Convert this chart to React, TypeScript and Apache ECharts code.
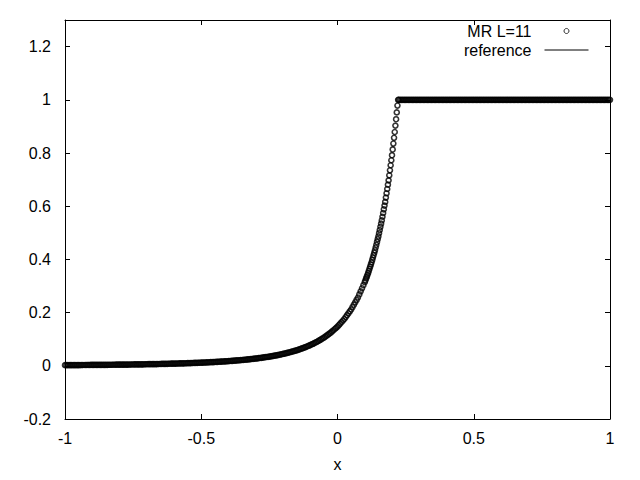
import React, { useEffect, useRef } from "react";
import * as echarts from "echarts";

// Tick labels
const xTicks = [-1, -0.5, 0, 0.5, 1];
const yTicks = [-0.2, 0, 0.2, 0.4, 0.6, 0.8, 1, 1.2];
const legendNames = ["MR L=11", "reference"];

// MR L=11 points: left tail
const tailPoints: [number, number][] = [
  [-1.0, 0.0025], [-0.995, 0.0025], [-0.99, 0.0026], [-0.985, 0.0026], [-0.98, 0.0026],
  [-0.975, 0.0027], [-0.97, 0.0027], [-0.965, 0.0027], [-0.96, 0.0028], [-0.955, 0.0028],
  [-0.95, 0.0028], [-0.945, 0.0029], [-0.94, 0.0029], [-0.935, 0.003], [-0.93, 0.003],
  [-0.925, 0.003], [-0.92, 0.0031], [-0.915, 0.0031], [-0.91, 0.0031], [-0.905, 0.0032],
  [-0.9, 0.0032], [-0.895, 0.0033], [-0.89, 0.0033], [-0.885, 0.0034], [-0.88, 0.0034],
  [-0.875, 0.0034], [-0.87, 0.0035], [-0.865, 0.0035], [-0.86, 0.0036], [-0.855, 0.0036],
  [-0.85, 0.0037], [-0.845, 0.0037], [-0.84, 0.0038], [-0.835, 0.0038], [-0.83, 0.0039],
  [-0.825, 0.004], [-0.82, 0.0041], [-0.815, 0.0041], [-0.81, 0.0042], [-0.805, 0.0042],
  [-0.8, 0.0043], [-0.795, 0.0043], [-0.79, 0.0044], [-0.785, 0.0045], [-0.78, 0.0046],
  [-0.775, 0.0046], [-0.77, 0.0047], [-0.765, 0.0048], [-0.76, 0.0049], [-0.755, 0.0049],
  [-0.75, 0.005], [-0.745, 0.0051], [-0.74, 0.0052], [-0.735, 0.0053], [-0.73, 0.0054],
  [-0.725, 0.0054], [-0.72, 0.0055], [-0.715, 0.0056], [-0.71, 0.0057], [-0.705, 0.0058],
  [-0.7, 0.0059], [-0.695, 0.006], [-0.69, 0.0061], [-0.685, 0.0062], [-0.68, 0.0063],
  [-0.675, 0.0064], [-0.67, 0.0065], [-0.665, 0.0066], [-0.66, 0.0067], [-0.655, 0.0068],
  [-0.65, 0.0069], [-0.645, 0.007], [-0.64, 0.0072], [-0.635, 0.0073], [-0.63, 0.0074],
  [-0.625, 0.0075], [-0.62, 0.0077], [-0.615, 0.0078], [-0.61, 0.008], [-0.605, 0.0081],
  [-0.6, 0.0082], [-0.595, 0.0084], [-0.59, 0.0085], [-0.585, 0.0086], [-0.58, 0.0088],
  [-0.575, 0.009], [-0.57, 0.0091], [-0.565, 0.0093], [-0.56, 0.0095], [-0.555, 0.0096],
  [-0.55, 0.0098], [-0.545, 0.01], [-0.54, 0.0102], [-0.535, 0.0104], [-0.53, 0.0106],
  [-0.525, 0.0108], [-0.52, 0.011], [-0.515, 0.0112], [-0.51, 0.0114], [-0.505, 0.0116],
  [-0.5, 0.0118], [-0.495, 0.012], [-0.49, 0.0123], [-0.485, 0.0125], [-0.48, 0.0128],
  [-0.475, 0.013], [-0.47, 0.0133], [-0.465, 0.0135], [-0.46, 0.0138], [-0.455, 0.0141],
  [-0.45, 0.0144], [-0.445, 0.0147], [-0.44, 0.015], [-0.435, 0.0153], [-0.43, 0.0156],
  [-0.425, 0.0159], [-0.42, 0.0163], [-0.415, 0.0166], [-0.41, 0.0169], [-0.405, 0.0172],
  [-0.4, 0.0176], [-0.395, 0.018], [-0.39, 0.0184], [-0.385, 0.0188], [-0.38, 0.0192],
  [-0.375, 0.0196], [-0.37, 0.0201], [-0.365, 0.0205], [-0.36, 0.0209], [-0.355, 0.0213],
  [-0.35, 0.0218], [-0.345, 0.0223], [-0.34, 0.0228], [-0.335, 0.0233], [-0.33, 0.0239],
  [-0.325, 0.0244], [-0.32, 0.025], [-0.315, 0.0255], [-0.31, 0.0261], [-0.305, 0.0267],
  [-0.3, 0.0273], [-0.295, 0.028], [-0.29, 0.0287], [-0.285, 0.0294], [-0.28, 0.0301],
  [-0.275, 0.0308], [-0.27, 0.0316], [-0.265, 0.0323], [-0.26, 0.0331], [-0.255, 0.0338],
  [-0.25, 0.0346], [-0.245, 0.0355], [-0.24, 0.0364], [-0.235, 0.0373], [-0.23, 0.0383],
  [-0.225, 0.0393], [-0.22, 0.0403], [-0.215, 0.0413], [-0.21, 0.0424], [-0.205, 0.0435],
  [-0.2, 0.0446],
];

// rising part
const risePoints: [number, number][] = [
  [-0.195, 0.0458], [-0.19, 0.0471], [-0.185, 0.0483], [-0.18, 0.0496], [-0.175, 0.0509],
  [-0.17, 0.0524], [-0.165, 0.0539], [-0.16, 0.0553], [-0.155, 0.0568], [-0.15, 0.0583],
  [-0.145, 0.06], [-0.14, 0.0618], [-0.135, 0.0636], [-0.13, 0.0654], [-0.125, 0.0672],
  [-0.12, 0.0693], [-0.115, 0.0714], [-0.11, 0.0735], [-0.105, 0.0757], [-0.1, 0.0778],
  [-0.095, 0.0803], [-0.09, 0.0828], [-0.085, 0.0853], [-0.08, 0.0879], [-0.075, 0.0904],
  [-0.07, 0.0935], [-0.065, 0.0966], [-0.06, 0.0996], [-0.055, 0.1027], [-0.05, 0.1058],
  [-0.045, 0.1095], [-0.04, 0.1133], [-0.035, 0.117], [-0.03, 0.1208], [-0.025, 0.1245],
  [-0.02, 0.1291], [-0.015, 0.1337], [-0.01, 0.1383], [-0.005, 0.1429], [0.0, 0.1475],
  [0.005, 0.1532], [0.01, 0.1589], [0.015, 0.1646], [0.02, 0.1703], [0.025, 0.176],
  [0.03, 0.1831], [0.035, 0.1903], [0.04, 0.1974], [0.045, 0.2046], [0.05, 0.2117],
  [0.055, 0.2207], [0.06, 0.2297], [0.065, 0.2388], [0.07, 0.2478], [0.075, 0.2568],
  [0.08, 0.2683], [0.085, 0.2798], [0.09, 0.2914], [0.095, 0.3029], [0.1, 0.3144],
];

// steep part just before the plateau
const steepPoints: [number, number][] = [
  [0.1025, 0.3213], [0.105, 0.3283], [0.1075, 0.3352], [0.11, 0.3422], [0.1125, 0.3491],
  [0.115, 0.3571], [0.1175, 0.365], [0.12, 0.373], [0.1225, 0.3809], [0.125, 0.3889],
  [0.1275, 0.398], [0.13, 0.4071], [0.1325, 0.4161], [0.135, 0.4252], [0.1375, 0.4343],
  [0.14, 0.4447], [0.1425, 0.4551], [0.145, 0.4656], [0.1475, 0.476], [0.15, 0.4864],
  [0.1525, 0.4984], [0.155, 0.5104], [0.1575, 0.5224], [0.16, 0.5344], [0.1625, 0.5464],
  [0.165, 0.5604], [0.1675, 0.5743], [0.17, 0.5883], [0.1725, 0.6022], [0.175, 0.6162],
  [0.1775, 0.6324], [0.18, 0.6486], [0.1825, 0.6647], [0.185, 0.6809], [0.1875, 0.6971],
  [0.19, 0.716], [0.1925, 0.7349], [0.195, 0.7539], [0.1975, 0.7728], [0.2, 0.7917],
  [0.2025, 0.8135], [0.205, 0.8354], [0.2075, 0.8572], [0.21, 0.879], [0.2125, 0.903],
  [0.215, 0.927], [0.2175, 0.9527], [0.22, 0.9784],
];

// plateau at 1
const plateauPoints: [number, number][] = [
  [0.2225, 1], [0.225, 1], [0.23, 1], [0.235, 1], [0.24, 1], [0.245, 1], [0.25, 1], [0.255, 1],
  [0.26, 1], [0.265, 1], [0.27, 1], [0.275, 1], [0.28, 1], [0.285, 1], [0.29, 1], [0.295, 1],
  [0.3, 1], [0.305, 1], [0.31, 1], [0.315, 1], [0.32, 1], [0.325, 1], [0.33, 1], [0.335, 1],
  [0.34, 1], [0.345, 1], [0.35, 1], [0.355, 1], [0.36, 1], [0.365, 1], [0.37, 1], [0.375, 1],
  [0.38, 1], [0.385, 1], [0.39, 1], [0.395, 1], [0.4, 1], [0.405, 1], [0.41, 1], [0.415, 1],
  [0.42, 1], [0.425, 1], [0.43, 1], [0.435, 1], [0.44, 1], [0.445, 1], [0.45, 1], [0.455, 1],
  [0.46, 1], [0.465, 1], [0.47, 1], [0.475, 1], [0.48, 1], [0.485, 1], [0.49, 1], [0.495, 1],
  [0.5, 1], [0.505, 1], [0.51, 1], [0.515, 1], [0.52, 1], [0.525, 1], [0.53, 1], [0.535, 1],
  [0.54, 1], [0.545, 1], [0.55, 1], [0.555, 1], [0.56, 1], [0.565, 1], [0.57, 1], [0.575, 1],
  [0.58, 1], [0.585, 1], [0.59, 1], [0.595, 1], [0.6, 1], [0.605, 1], [0.61, 1], [0.615, 1],
  [0.62, 1], [0.625, 1], [0.63, 1], [0.635, 1], [0.64, 1], [0.645, 1], [0.65, 1], [0.655, 1],
  [0.66, 1], [0.665, 1], [0.67, 1], [0.675, 1], [0.68, 1], [0.685, 1], [0.69, 1], [0.695, 1],
  [0.7, 1], [0.705, 1], [0.71, 1], [0.715, 1], [0.72, 1], [0.725, 1], [0.73, 1], [0.735, 1],
  [0.74, 1], [0.745, 1], [0.75, 1], [0.755, 1], [0.76, 1], [0.765, 1], [0.77, 1], [0.775, 1],
  [0.78, 1], [0.785, 1], [0.79, 1], [0.795, 1], [0.8, 1], [0.805, 1], [0.81, 1], [0.815, 1],
  [0.82, 1], [0.825, 1], [0.83, 1], [0.835, 1], [0.84, 1], [0.845, 1], [0.85, 1], [0.855, 1],
  [0.86, 1], [0.865, 1], [0.87, 1], [0.875, 1], [0.88, 1], [0.885, 1], [0.89, 1], [0.895, 1],
  [0.9, 1], [0.905, 1], [0.91, 1], [0.915, 1], [0.92, 1], [0.925, 1], [0.93, 1], [0.935, 1],
  [0.94, 1], [0.945, 1], [0.95, 1], [0.955, 1], [0.96, 1], [0.965, 1], [0.97, 1], [0.975, 1],
  [0.98, 1], [0.985, 1], [0.99, 1], [0.995, 1], [1.0, 1],
];

// the reference curve is not visible in the picture
const referencePoints: [number, number][] = [];

const FONT = "'Liberation Sans', Arial, sans-serif";

export default function App() {
  const ref = useRef<HTMLDivElement>(null);
  useEffect(() => {
    if (!ref.current) return;
    const chart = echarts.init(ref.current, undefined, { renderer: "svg" });
    const mrData = [...tailPoints, ...risePoints, ...steepPoints, ...plateauPoints];
    const axisCommon = {
      type: "value" as const,
      axisLine: { show: true, onZero: false, lineStyle: { color: "#000", width: 1 } },
      axisTick: { show: true, inside: true, length: 5, lineStyle: { color: "#000", width: 1 } },
      splitLine: { show: false },
    };
    const xMin = xTicks[0];
    const xMax = xTicks[xTicks.length - 1];
    const xInt = xTicks[1] - xTicks[0];
    const yMin = yTicks[0];
    const yInt = 0.2;
    const yMax = 1.3;
    chart.setOption({
      animation: false,
      backgroundColor: "#fff",
      textStyle: { fontFamily: FONT },
      grid: { left: 65, right: 30, top: 20, bottom: 61, containLabel: false },
      legend: {
        orient: "vertical",
        right: 51,
        top: 23,
        padding: 0,
        align: "right",
        itemWidth: 44,
        itemHeight: 5,
        itemGap: 3,
        formatter: "{t|{name}}",
        textStyle: {
          fontFamily: FONT,
          fontSize: 16,
          color: "#000",
          rich: { t: { fontFamily: FONT, fontSize: 16, color: "#000", padding: [0, 8, 0, 0] } },
        },
        data: [
          {
            name: legendNames[0],
            icon: "circle",
            itemStyle: { color: "#fff", borderColor: "#000", borderWidth: 1 },
          },
          {
            name: legendNames[1],
            itemStyle: { color: "rgba(0,0,0,0)", borderWidth: 0, opacity: 0 },
            lineStyle: { color: "#000", width: 1 },
          },
        ],
      },
      xAxis: [
        {
          ...axisCommon,
          position: "bottom",
          min: xMin,
          max: xMax,
          interval: xInt,
          name: "x",
          nameLocation: "middle",
          nameGap: 37,
          nameTextStyle: { fontFamily: FONT, fontSize: 16, color: "#000" },
          axisLabel: { margin: 11, color: "#000", fontSize: 16, fontFamily: FONT },
        },
        {
          ...axisCommon,
          position: "top",
          min: xMin,
          max: xMax,
          interval: xInt,
          axisLabel: { show: false },
        },
      ],
      yAxis: [
        {
          ...axisCommon,
          position: "left",
          min: yMin,
          max: yMax,
          interval: yInt,
          axisLabel: { margin: 14, color: "#000", fontSize: 16, fontFamily: FONT, showMaxLabel: false },
        },
        {
          ...axisCommon,
          position: "right",
          min: yMin,
          max: yMax,
          interval: yInt,
          axisLabel: { show: false },
        },
      ],
      series: [
        {
          name: legendNames[0],
          type: "scatter",
          xAxisIndex: 0,
          yAxisIndex: 0,
          symbol: "circle",
          symbolSize: 5,
          clip: false,
          itemStyle: { color: "rgba(0,0,0,0)", borderColor: "#000", borderWidth: 1.6 },
          data: mrData,
        },
        {
          name: legendNames[1],
          type: "line",
          xAxisIndex: 0,
          yAxisIndex: 0,
          showSymbol: false,
          symbol: "none",
          itemStyle: { color: "#000" },
          lineStyle: { color: "#000", width: 1 },
          data: referencePoints,
        },
      ],
    });
    return () => chart.dispose();
  }, []);
  return (
    <div
      ref={ref}
      style={{ position: "fixed", left: 0, top: 0, width: 640, height: 480, background: "#fff" }}
    />
  );
}
